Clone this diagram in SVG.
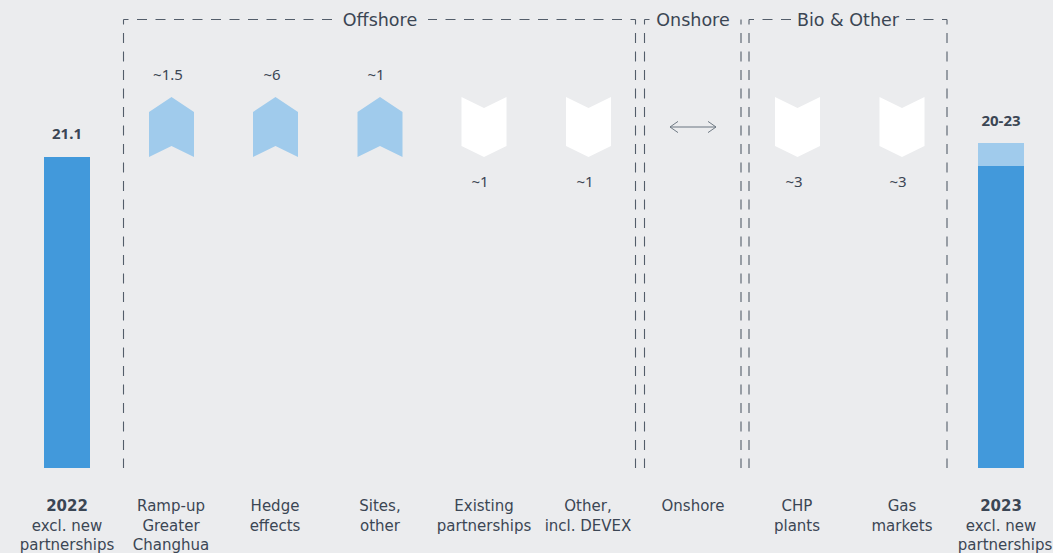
<svg xmlns="http://www.w3.org/2000/svg" width="1053" height="553" viewBox="0 0 1053 553">
<defs>
<style>
.t{font-family:"Noto Sans","Liberation Sans",sans-serif;font-size:15px;fill:#3b4654;text-anchor:middle}
.l{font-family:"DejaVu Sans","Liberation Sans",sans-serif;font-size:15px}
.b{font-weight:bold}
.h{font-family:"DejaVu Sans","Liberation Sans",sans-serif;font-size:17.5px}
.d{fill:none;stroke:#535d6a;stroke-width:1.1;stroke-dasharray:10 8.5;stroke-dashoffset:5}
.up{fill:#a0cbec}
.dn{fill:#ffffff}
.bar{fill:#4299db}
</style>
<marker id="ah" viewBox="0 0 10 14" refX="10" refY="7" markerWidth="8" markerHeight="12" markerUnits="userSpaceOnUse" orient="auto-start-reverse">
<path d="M0 0 L10 7 L0 14" fill="none" stroke="#6b7580" stroke-width="1.2"/>
</marker>
</defs>
<rect width="1053" height="553" fill="#ebecee"/>
<g id="groups">
<g id="offshore-box">
<path class="d" d="M123.5 19.5 V468 M123.5 19.5 H334 M635.5 19.5 H428 M635.5 19.5 V468"/>
<text class="t h" x="380" y="26">Offshore</text>
</g>
<g id="onshore-box">
<path class="d" d="M644.5 19.5 H650 M644.5 19.5 V468 M741 19.5 V468"/>
<text class="t h" x="693" y="26">Onshore</text>
</g>
<g id="bio-box">
<path class="d" d="M749 19.5 V468 M749 19.5 H791 M947 19.5 H906 M947 19.5 V468"/>
<text class="t h" x="848" y="26">Bio &amp; Other</text>
</g>
</g>
<g id="bar-2022">
<rect class="bar" x="44" y="157" width="46" height="311"/>
<text class="t b" x="67" y="139">21.1</text>
<text class="t l" x="67" y="511"><tspan class="b">2022</tspan><tspan x="67" dy="19.5">excl. new</tspan><tspan x="67" dy="19.5">partnerships</tspan></text>
</g>
<g id="ramp-up">
<polygon class="up" points="149,112 171.5,97 194,112 194,157 171.5,146 149,157"/>
<text class="t" x="168" y="80">~1.5</text>
<text class="t l" x="171" y="511">Ramp-up<tspan x="171" dy="19.5">Greater</tspan><tspan x="171" dy="19.5">Changhua</tspan></text>
</g>
<g id="hedge">
<polygon class="up" points="253,112 275.5,97 298,112 298,157 275.5,146 253,157"/>
<text class="t" x="272" y="80">~6</text>
<text class="t l" x="275" y="511">Hedge<tspan x="275" dy="19.5">effects</tspan></text>
</g>
<g id="sites">
<polygon class="up" points="357.5,112 380,97 402.5,112 402.5,157 380,146 357.5,157"/>
<text class="t" x="376" y="80">~1</text>
<text class="t l" x="380" y="511">Sites,<tspan x="380" dy="19.5">other</tspan></text>
</g>
<g id="existing">
<polygon class="dn" points="461.5,97 484,108 506.5,97 506.5,146 484,157 461.5,146"/>
<text class="t" x="480" y="187">~1</text>
<text class="t l" x="484" y="511">Existing<tspan x="484" dy="19.5">partnerships</tspan></text>
</g>
<g id="other">
<polygon class="dn" points="566,97 588.5,108 611,97 611,146 588.5,157 566,146"/>
<text class="t" x="585" y="187">~1</text>
<text class="t l" x="588" y="511">Other,<tspan x="588" dy="19.5">incl. DEVEX</tspan></text>
</g>
<g id="onshore">
<text class="t l" x="693" y="511">Onshore</text>
</g>
<g id="chp">
<polygon class="dn" points="775,97 797.5,108 820,97 820,146 797.5,157 775,146"/>
<text class="t" x="794" y="187">~3</text>
<text class="t l" x="797" y="511">CHP<tspan x="797" dy="19.5">plants</tspan></text>
</g>
<g id="gas">
<polygon class="dn" points="879.5,97 902,108 924.5,97 924.5,146 902,157 879.5,146"/>
<text class="t" x="898" y="187">~3</text>
<text class="t l" x="902" y="511">Gas<tspan x="902" dy="19.5">markets</tspan></text>
</g>
<g id="bar-2023">
<rect fill="#a0cbec" x="978" y="143" width="46" height="23"/>
<rect class="bar" x="978" y="166" width="46" height="302"/>
<text class="t b" x="1001" y="126">20-23</text>
<text class="t l" x="1001" y="511"><tspan class="b">2023</tspan><tspan x="1001" dy="19.5">excl. new</tspan><tspan x="1005" dy="19.5">partnerships</tspan></text>
</g>
<g id="connectors">
<line x1="670" y1="127" x2="716" y2="127" stroke="#6b7580" stroke-width="1.2" marker-start="url(#ah)" marker-end="url(#ah)"/>
</g>
</svg>
